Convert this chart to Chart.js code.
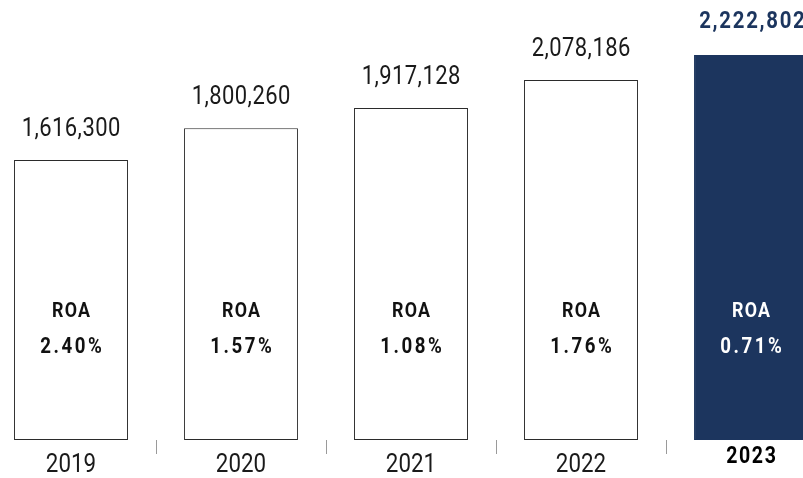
<!DOCTYPE html>
<html><head><meta charset="utf-8">
<script src="https://cdn.jsdelivr.net/npm/chart.js@4/dist/chart.umd.min.js"></script>
<style>
html,body{margin:0;padding:0;background:#fff;overflow:hidden;width:803px;height:478px;}
#wrap{position:absolute;left:-14px;top:0;width:850px;height:478px;}
</style></head><body>
<div id="wrap"><canvas id="c" width="850" height="478"></canvas></div>
<script>
const years = ['2019', '2020', '2021', '2022', '2023'];
const totals = [1616300, 1800260, 1917128, 2078186, 2222802];
const roaValues = [2.40, 1.57, 1.08, 1.76, 0.71];
const roaLabel = 'ROA';

const NAVY = '#1c355e';
const INK = '#1a1a1a';
const FAMILY = 'Roboto, "Noto Sans", sans-serif';
const last = years.length - 1;

const fmt = v => v.toLocaleString('en-US');

// condensed text: horizontally squeezed Roboto with optional tracking
function condText(ctx, text, x, y, font, sx, spacing) {
  ctx.save();
  ctx.font = font;
  ctx.letterSpacing = spacing + 'px';
  ctx.textAlign = 'center';
  ctx.textBaseline = 'alphabetic';
  ctx.translate(x + spacing * sx / 2, y);
  ctx.scale(sx, 1);
  ctx.fillText(text, 0, 0);
  ctx.restore();
}

const labelPlugin = {
  id: 'labels',
  afterDatasetsDraw(chart) {
    const ctx = chart.ctx;
    const meta = chart.getDatasetMeta(0);
    const bottom = chart.chartArea.bottom;
    meta.data.forEach((el, i) => {
      const hl = i === last;
      // value above bar
      ctx.fillStyle = hl ? NAVY : INK;
      if (hl) condText(ctx, fmt(totals[i]), el.x + 1, el.y - 27, 'bold 24px ' + FAMILY, 0.85, 2);
      else condText(ctx, fmt(totals[i]), el.x, el.y - 24, '25px ' + FAMILY, 0.88, 0.5);
      // ROA inside bar
      ctx.fillStyle = hl ? '#ffffff' : '#111111';
      condText(ctx, roaLabel, el.x, bottom - 123, 'bold 21px ' + FAMILY, 0.85, 1.5);
      condText(ctx, roaValues[i].toFixed(2) + '%', el.x, bottom - 87, 'bold 22px ' + FAMILY, 0.85, 3);
      // year label
      ctx.fillStyle = hl ? '#000000' : INK;
      if (hl) condText(ctx, years[i], el.x, bottom + 23, 'bold 23px ' + FAMILY, 0.85, 1.9);
      else condText(ctx, years[i], el.x, bottom + 32, '26px ' + FAMILY, 0.86, 0);
    });
  }
};

new Chart(document.getElementById('c'), {
  type: 'bar',
  data: {
    labels: years,
    datasets: [{
      data: totals,
      backgroundColor: years.map((_, i) => i === last ? NAVY : '#ffffff'),
      borderColor: years.map((_, i) => i === last ? NAVY : '#2b2b2b'),
      borderWidth: 1,
      borderSkipped: false,
      barPercentage: 0.67,
      categoryPercentage: 1
    }]
  },
  options: {
    responsive: false,
    animation: false,
    devicePixelRatio: 1,
    layout: { padding: 0 },
    plugins: { legend: { display: false }, tooltip: { enabled: false } },
    scales: {
      x: {
        border: { display: false },
        grid: { display: true, offset: true, drawOnChartArea: false, drawTicks: true, tickLength: 14, color: '#9a9a9a', lineWidth: 1 },
        ticks: { display: false },
        afterFit: s => { s.height = 38; }
      },
      y: { display: false, min: 0, max: 2540000 }
    }
  },
  plugins: [labelPlugin]
});
</script>
</body></html>
